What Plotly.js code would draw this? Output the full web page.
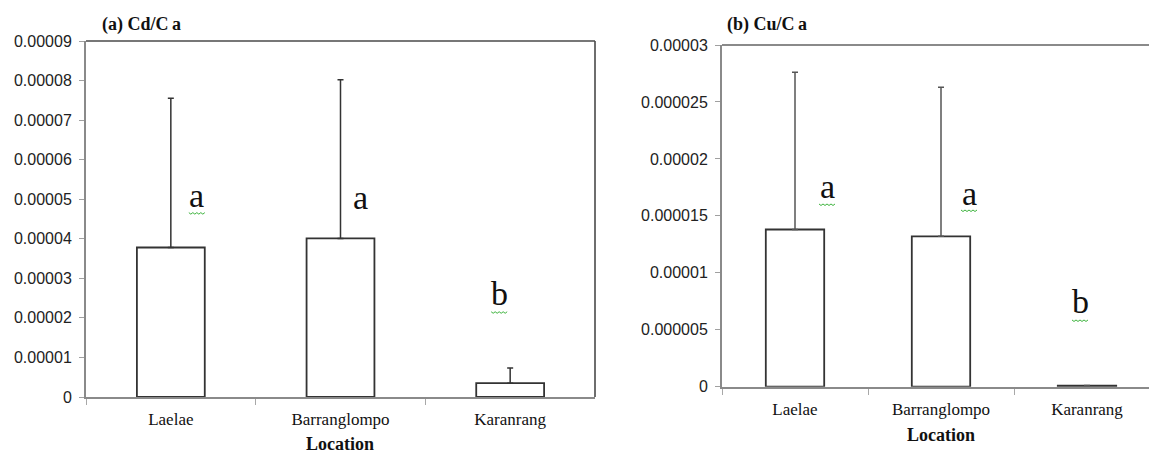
<!DOCTYPE html>
<html>
<head>
<meta charset="utf-8">
<script src="https://cdn.plot.ly/plotly-3.0.1.min.js"></script>
<style>
html,body{margin:0;padding:0;overflow:hidden;background:#fff;}
#chart{width:1170px;height:453px;}
</style>
</head>
<body>
<div id="chart"></div>
<script>
// ---- data ----
const categories = ['Laelae', 'Barranglompo', 'Karanrang'];
const cdMean = [0.0000378, 0.0000401, 0.0000035];
const cdErr  = [0.0000377, 0.0000401, 0.0000038];
const cuMean = [0.0000138, 0.0000132, 0.0000001];
const cuErr  = [0.0000138, 0.0000131, 0];
const cdLetters = ['a', 'a', 'b'];
const cuLetters = ['a', 'a', 'b'];
const cdTickVals = [0, 0.00001, 0.00002, 0.00003, 0.00004, 0.00005, 0.00006, 0.00007, 0.00008, 0.00009];
const cdTickText = ['0', '0.00001', '0.00002', '0.00003', '0.00004', '0.00005', '0.00006', '0.00007', '0.00008', '0.00009'];
const cuTickVals = [0, 0.000005, 0.00001, 0.000015, 0.00002, 0.000025, 0.00003];
const cuTickText = ['0', '0.000005', '0.00001', '0.000015', '0.00002', '0.000025', '0.00003'];
const panelTitles = ['(a) Cd/C\u2009a', '(b) Cu/C\u2009a'];
const xTitle = 'Location';

// ---- styling / layout ----
const W = 1170, H = 453;
const barLine = '#333333';
const serif = 'Liberation Serif, Times New Roman, serif';
const sans = 'Liberation Sans, Arial, sans-serif';

function barTrace(means, errs, xa, ya, errColor) {
  return {
    type: 'bar', x: categories, y: means, xaxis: xa, yaxis: ya,
    width: 0.4,
    marker: {color: '#ffffff', line: {color: barLine, width: 1.8}},
    error_y: {type: 'data', symmetric: false, array: errs, arrayminus: errs.map(() => 0),
              color: errColor, thickness: 1.5, width: 3},
    showlegend: false, hoverinfo: 'skip'
  };
}

const traces = [
  barTrace(cdMean, cdErr, 'x', 'y', '#333333'),
  barTrace(cuMean, cuErr, 'x2', 'y2', '#555555')
];

function xAxis(domain, anchor) {
  return {
    domain: domain, anchor: anchor, type: 'category', range: [-0.5, 2.5],
    showline: true, linecolor: '#8a8a8a', linewidth: 2,
    ticks: 'outside', tickson: 'boundaries', ticklen: 6, tickcolor: '#a8a8a8', tickwidth: 1,
    tickfont: {family: serif, size: 17, color: '#111'},
    ticklabelstandoff: 6,
    showgrid: false, zeroline: false, fixedrange: true
  };
}
function yAxis(domain, anchor, rng, vals, text) {
  return {
    domain: domain, anchor: anchor, range: rng,
    tickmode: 'array', tickvals: vals, ticktext: text,
    showline: true, linecolor: '#8a8a8a', linewidth: 2,
    ticks: 'outside', ticklen: 5, tickcolor: '#a0a0a0', tickwidth: 1,
    tickfont: {family: sans, size: 16, color: '#222'},
    ticklabelstandoff: 4,
    showgrid: false, zeroline: false, fixedrange: true
  };
}

const px = v => v / W, py = v => 1 - v / H;

const letterFont = {family: serif, size: 34, color: '#111'};
function letterAnn(xa, ya, cat, yv, txt, xs, ys) {
  return {xref: xa, yref: ya, x: cat, y: yv, text: txt, showarrow: false,
          font: letterFont, xshift: xs, yshift: ys, xanchor: 'center', yanchor: 'middle'};
}
// green spell-check squiggle under a letter, drawn as a small pixel-sized path
function squig(xa, ya, cat, yv, xs, ys) {
  let d = 'M ' + (xs - 8) + ' ' + ys;
  for (let i = 1; i <= 8; i++) d += ' L ' + (xs - 8 + i * 2) + ' ' + (ys + (i % 2 ? -1.5 : 0));
  return {type: 'path', xref: xa, yref: ya, xsizemode: 'pixel', ysizemode: 'pixel',
          xanchor: cat, yanchor: yv, path: d, line: {color: '#3cb33c', width: 1}};
}

const titleFont = {family: serif, size: 18, color: '#111'};
const annotations = [
  {xref: 'paper', yref: 'paper', x: px(100), y: py(24), xanchor: 'left', yanchor: 'middle',
   text: '<b>' + panelTitles[0] + '</b>', showarrow: false, font: titleFont},
  {xref: 'paper', yref: 'paper', x: px(725), y: py(24), xanchor: 'left', yanchor: 'middle',
   text: '<b>' + panelTitles[1] + '</b>', showarrow: false, font: titleFont},
  {xref: 'paper', yref: 'paper', x: px(340), y: py(444), xanchor: 'center', yanchor: 'middle',
   text: '<b>' + xTitle + '</b>', showarrow: false, font: titleFont},
  {xref: 'paper', yref: 'paper', x: px(941), y: py(435), xanchor: 'center', yanchor: 'middle',
   text: '<b>' + xTitle + '</b>', showarrow: false, font: titleFont},
  // Cd letters
  letterAnn('x', 'y', categories[0], 0.0000504, cdLetters[0], 26, 2),
  letterAnn('x', 'y', categories[1], 0.0000499, cdLetters[1], 20, 2),
  letterAnn('x', 'y', categories[2], 0.0000261, cdLetters[2], -11, 0),
  // Cu letters
  letterAnn('x2', 'y2', categories[0], 0.00001736, cuLetters[0], 32, 2),
  letterAnn('x2', 'y2', categories[1], 0.00001683, cuLetters[1], 28, 2),
  letterAnn('x2', 'y2', categories[2], 0.00000744, cuLetters[2], -7, 0)
];

const border = '#4a4a4a';
const shapes = [
  {type: 'line', xref: 'x domain', yref: 'y domain', x0: 0, x1: 1, y0: 1, y1: 1, line: {color: border, width: 1.6}},
  {type: 'line', xref: 'x domain', yref: 'y domain', x0: 1, x1: 1, y0: 0, y1: 1, line: {color: border, width: 1.6}},
  {type: 'line', xref: 'x2 domain', yref: 'y2 domain', x0: 0, x1: 1, y0: 1, y1: 1, line: {color: '#8a8a8a', width: 2}},
  {type: 'line', xref: 'x2 domain', yref: 'y2 domain', x0: 1, x1: 1, y0: 0, y1: 1, line: {color: '#8a8a8a', width: 2}},
  squig('x', 'y', categories[0], 0.0000504, 26, -15),
  squig('x', 'y', categories[2], 0.0000261, -11, -18),
  squig('x2', 'y2', categories[0], 0.00001736, 32, -15),
  squig('x2', 'y2', categories[1], 0.00001683, 28, -15),
  squig('x2', 'y2', categories[2], 0.00000744, -7, -18)
];

const layout = {
  width: W, height: H,
  margin: {l: 0, r: 0, t: 0, b: 0},
  paper_bgcolor: '#ffffff', plot_bgcolor: '#ffffff',
  showlegend: false, bargap: 0.6,
  xaxis: xAxis([px(86), px(595)], 'y'),
  yaxis: yAxis([py(397), py(41)], 'x', [0, 0.00009], cdTickVals, cdTickText),
  xaxis2: xAxis([px(722), px(1160)], 'y2'),
  yaxis2: yAxis([py(386.7), py(45)], 'x2', [0, 0.00003], cuTickVals, cuTickText),
  annotations: annotations,
  shapes: shapes
};

Plotly.newPlot('chart', traces, layout, {displayModeBar: false, staticPlot: true});
</script>
</body>
</html>
